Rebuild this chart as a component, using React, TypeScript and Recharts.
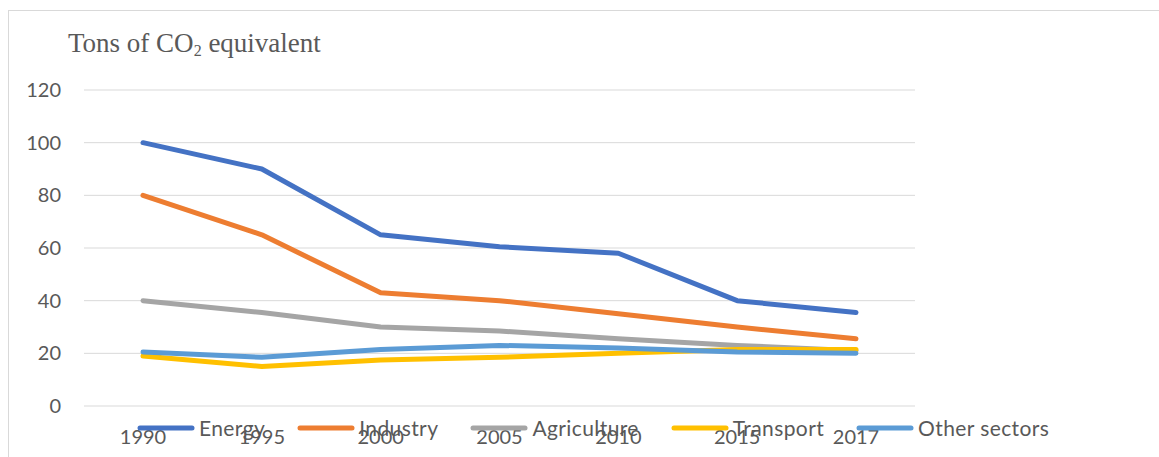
import { LineChart, Line, XAxis, YAxis, CartesianGrid, Legend } from 'recharts';

const years = ['1990', '1995', '2000', '2005', '2010', '2015', '2017'];
const energy = [100, 90, 65, 60.5, 58, 40, 35.5];
const industry = [80, 65, 43, 40, 35, 30, 25.5];
const agriculture = [40, 35.5, 30, 28.5, 25.5, 23, 21];
const transport = [19, 15, 17.5, 18.5, 20, 21.5, 21.5];
const otherSectors = [20.5, 18.5, 21.5, 23, 22, 20.5, 20];
const yTicks = [0, 20, 40, 60, 80, 100, 120];

const data = years.map((year, i) => ({
    year,
    energy: energy[i],
    industry: industry[i],
    agriculture: agriculture[i],
    transport: transport[i],
    other: otherSectors[i]
}));

const series = [
    { key: 'energy', name: 'Energy', color: '#4472C4' },
    { key: 'industry', name: 'Industry', color: '#ED7D31' },
    { key: 'agriculture', name: 'Agriculture', color: '#A5A5A5' },
    { key: 'transport', name: 'Transport', color: '#FFC000' },
    { key: 'other', name: 'Other sectors', color: '#5B9BD5' }
];

const textColor = '#595959';
const font = 'Lato, sans-serif';

// keep the legend in series order (recharts sorts it by name otherwise)
function LegendContent() {
    return (
        <div style={{ display: 'flex', alignItems: 'center', fontFamily: font, fontSize: 21, letterSpacing: 0.4, color: textColor }}>
            {series.map(s => (
                <div key={s.key} style={{ display: 'flex', alignItems: 'center', marginRight: 32 }}>
                    <svg width={58} height={10}>
                        <line x1={3} y1={5} x2={55} y2={5} stroke={s.color} strokeWidth={5} strokeLinecap="round" />
                    </svg>
                    <span style={{ marginLeft: 4, lineHeight: '24px' }}>{s.name}</span>
                </div>
            ))}
        </div>
    );
}

export default function App() {
    return (
        <div style={{ position: 'absolute', left: 0, top: 0, width: 1159, height: 457, overflow: 'hidden', background: '#fff' }}>
            <div
                style={{
                    position: 'absolute',
                    left: 8,
                    top: 10,
                    width: 1160,
                    height: 460,
                    border: '1px solid #d9d9d9',
                    boxSizing: 'border-box'
                }}
            />
            <div
                style={{
                    position: 'absolute',
                    left: 68,
                    top: 28,
                    fontFamily: '"Liberation Serif", serif',
                    fontSize: 27,
                    lineHeight: '30px',
                    color: textColor,
                    whiteSpace: 'nowrap'
                }}
            >
                Tons of CO<sub style={{ fontSize: 16, verticalAlign: -4, lineHeight: 0 }}>2</sub> equivalent
            </div>
            <div style={{ position: 'absolute', left: 0, top: 0 }}>
                <LineChart width={1159} height={457} data={data} margin={{ top: 90, right: 244, bottom: 6, left: 0 }}>
                    <CartesianGrid vertical={false} stroke="#d9d9d9" strokeWidth={1} />
                    <XAxis
                        dataKey="year"
                        axisLine={false}
                        tickLine={false}
                        tickSize={0}
                        tickMargin={24}
                        height={45}
                        padding={{ left: 59, right: 59 }}
                        interval={0}
                        tick={{ fill: textColor, fontSize: 20, fontFamily: font }}
                    />
                    <YAxis
                        domain={[0, 120]}
                        ticks={yTicks}
                        axisLine={false}
                        tickLine={false}
                        tickSize={0}
                        tickMargin={23}
                        width={84}
                        tick={{ fill: textColor, fontSize: 20, fontFamily: font }}
                    />
                    <Legend
                        layout="horizontal"
                        verticalAlign="middle"
                        align="center"
                        content={<LegendContent />}
                        wrapperStyle={{ left: 137, top: 416, width: 'auto', height: 24 }}
                    />
                    {series.map(s => (
                        <Line
                            key={s.key}
                            type="linear"
                            dataKey={s.key}
                            name={s.name}
                            stroke={s.color}
                            strokeWidth={5}
                            strokeLinecap="round"
                            strokeLinejoin="round"
                            dot={false}
                            activeDot={false}
                            isAnimationActive={false}
                        />
                    ))}
                </LineChart>
            </div>
        </div>
    );
}
